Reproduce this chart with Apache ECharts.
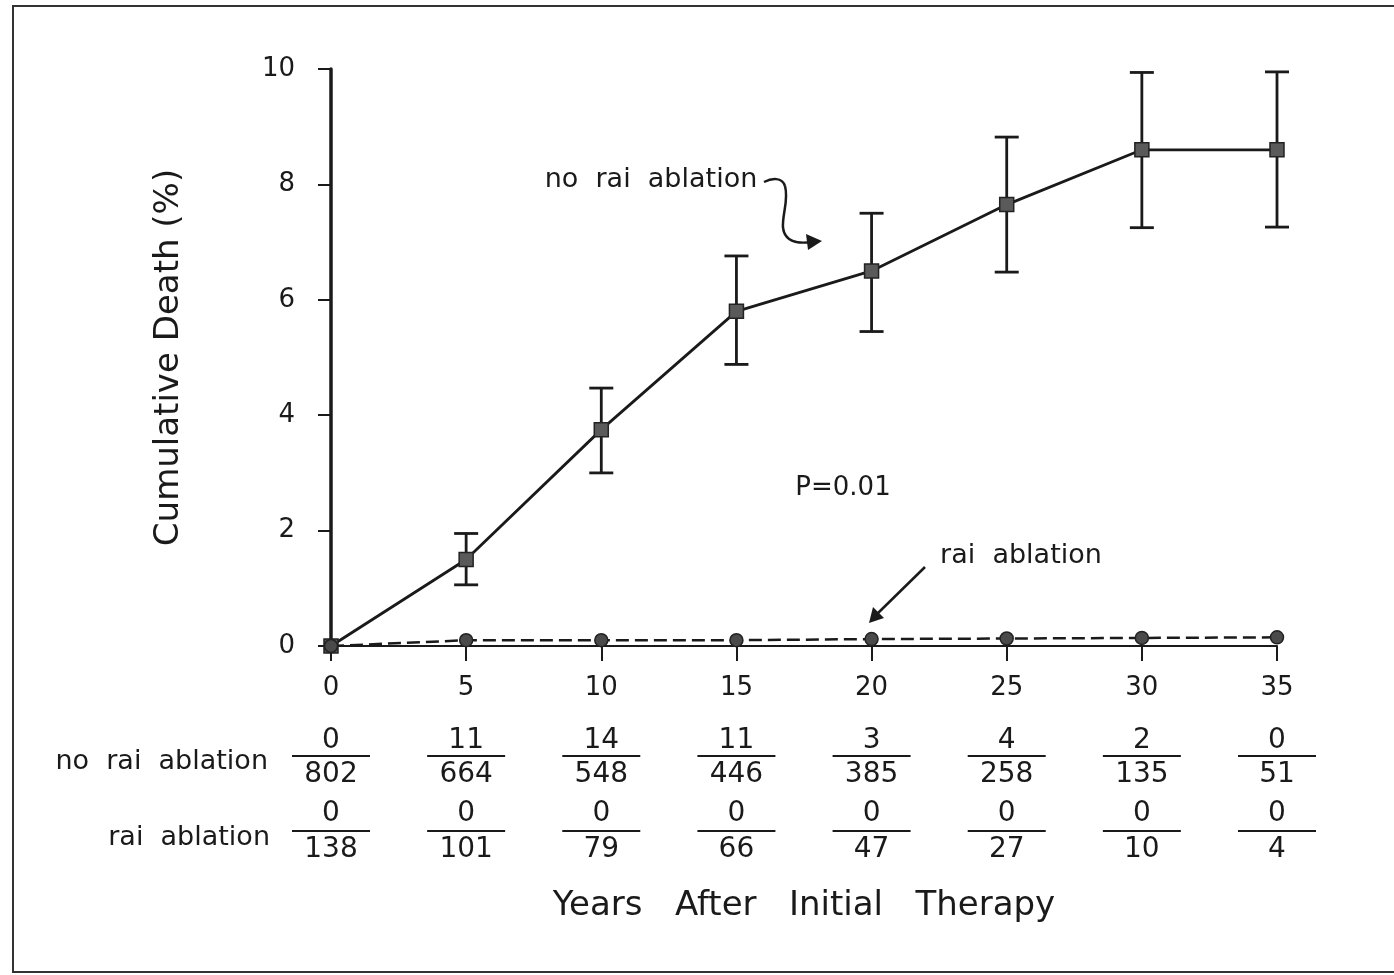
<!DOCTYPE html>
<html>
<head>
<meta charset="utf-8">
<title>Cumulative Death</title>
<script src="https://cdn.jsdelivr.net/npm/echarts@6/dist/echarts.min.js"></script>
<style>
  html, body { margin: 0; padding: 0; background: #fff; }
  #chart { width: 1394px; height: 975px; }
</style>
</head>
<body>
<div id="chart"></div>
<script>
// years after initial therapy
var years = [0, 5, 10, 15, 20, 25, 30, 35];

// cumulative death (%), no rai ablation, with error bar ends
var noRai = [0, 1.5, 3.75, 5.8, 6.5, 7.65, 8.6, 8.6];
var noRaiLow = [null, 1.06, 3.0, 4.88, 5.45, 6.48, 7.25, 7.26];
var noRaiHigh = [null, 1.95, 4.47, 6.76, 7.5, 8.82, 9.94, 9.95];

// cumulative death (%), rai ablation
var rai = [0, 0.1, 0.1, 0.1, 0.12, 0.13, 0.14, 0.15];

// numbers at risk table (deaths / patients)
var noRaiDeaths = [0, 11, 14, 11, 3, 4, 2, 0];
var noRaiAtRisk = [802, 664, 548, 446, 385, 258, 135, 51];
var raiDeaths = [0, 0, 0, 0, 0, 0, 0, 0];
var raiAtRisk = [138, 101, 79, 66, 47, 27, 10, 4];

var FONT = "DejaVu Sans";
var INK = "#1a1a1a";

var chart = echarts.init(document.getElementById("chart"));

var noRaiPts = years.map(function (y, i) { return [y, noRai[i]]; });
var raiPts = years.map(function (y, i) { return [y, rai[i]]; });
var errPts = [];
for (var i = 0; i < years.length; i++) {
  if (noRaiLow[i] != null) errPts.push([years[i], noRaiLow[i], noRaiHigh[i]]);
}

var option = {
  backgroundColor: "#fff",
  animation: false,
  textStyle: { fontFamily: FONT, color: INK },
  grid: { left: 331, right: 117, top: 69, bottom: 329 },
  xAxis: {
    type: "value",
    min: 0,
    max: 35,
    interval: 5,
    name: "Years   After   Initial   Therapy",
    nameLocation: "middle",
    nameGap: 243,
    nameTextStyle: { fontSize: 34, color: INK, fontFamily: FONT },
    axisLine: { show: true, lineStyle: { color: INK, width: 2 } },
    axisTick: { show: true, inside: false, length: 15, lineStyle: { color: INK, width: 2 } },
    axisLabel: { fontSize: 26, color: INK, margin: 29, fontFamily: FONT },
    splitLine: { show: false }
  },
  yAxis: {
    type: "value",
    min: 0,
    max: 10,
    interval: 2,
    name: "Cumulative Death (%)",
    nameLocation: "middle",
    nameGap: 145,
    nameRotate: 90,
    nameTextStyle: { fontSize: 34, color: INK, fontFamily: FONT },
    axisLine: { show: true, lineStyle: { color: INK, width: 3.5 } },
    axisTick: { show: true, length: 13, lineStyle: { color: INK, width: 2 } },
    axisLabel: { fontSize: 26, color: INK, margin: 36, fontFamily: FONT },
    splitLine: { show: false }
  },
  series: [
    {
      name: "error",
      type: "custom",
      data: errPts,
      z: 2,
      renderItem: function (params, api) {
        var x = api.value(0);
        var lo = api.coord([x, api.value(1)]);
        var hi = api.coord([x, api.value(2)]);
        var w = 12;
        var st = { stroke: INK, lineWidth: 2.8 };
        return {
          type: "group",
          children: [
            { type: "line", shape: { x1: lo[0], y1: lo[1], x2: hi[0], y2: hi[1] }, style: st },
            { type: "line", shape: { x1: lo[0] - w, y1: lo[1], x2: lo[0] + w, y2: lo[1] }, style: st },
            { type: "line", shape: { x1: hi[0] - w, y1: hi[1], x2: hi[0] + w, y2: hi[1] }, style: st }
          ]
        };
      }
    },
    {
      name: "no rai ablation",
      type: "line",
      data: noRaiPts,
      z: 3,
      symbol: "rect",
      symbolSize: 14,
      showAllSymbol: true,
      lineStyle: { color: INK, width: 2.8 },
      itemStyle: { color: "#5a5a5a", borderColor: "#222", borderWidth: 1.5 }
    },
    {
      name: "rai ablation",
      type: "line",
      data: raiPts,
      z: 3,
      symbol: "circle",
      symbolSize: 13,
      showAllSymbol: true,
      lineStyle: { color: INK, width: 2.5, type: [13, 6] },
      itemStyle: { color: "#4a4a4a", borderColor: "#222", borderWidth: 1.5 }
    }
  ]
};

chart.setOption(option);

// annotations and numbers-at-risk table
var g = [];

// outer frame of the figure
g.push({
  type: "rect",
  shape: { x: 13, y: 6, width: 1400, height: 966 },
  style: { fill: null, stroke: "#333", lineWidth: 2 },
  silent: true
});

function txt(x, y, s, align, size) {
  return {
    type: "text",
    x: x,
    y: y,
    style: {
      text: s,
      fontFamily: FONT,
      fontSize: size || 26,
      fill: INK,
      align: align || "center",
      verticalAlign: "middle"
    }
  };
}

function curve(x1, y1, c1x, c1y, c2x, c2y, x2, y2) {
  return {
    type: "bezierCurve",
    shape: { x1: x1, y1: y1, cpx1: c1x, cpy1: c1y, cpx2: c2x, cpy2: c2y, x2: x2, y2: y2 },
    style: { fill: null, stroke: INK, lineWidth: 2.5 }
  };
}

g.push(txt(651, 180, "no  rai  ablation", "center", 27));
g.push(curve(764, 182, 772, 178, 782, 177, 785, 186));
g.push(curve(785, 186, 789, 200, 782, 214, 783, 228));
g.push(curve(783, 228, 785, 242, 797, 244, 812, 242));
g.push({
  type: "polygon",
  shape: { points: [[822, 241], [806, 234], [808, 250]] },
  style: { fill: INK }
});

g.push(txt(1021, 556, "rai  ablation", "center", 27));
g.push({
  type: "line",
  shape: { x1: 925, y1: 567, x2: 876, y2: 615 },
  style: { stroke: INK, lineWidth: 2.5 }
});
g.push({
  type: "polygon",
  shape: { points: [[869, 623], [873, 607], [884, 618]] },
  style: { fill: INK }
});

g.push(txt(843, 488, "P=0.01", "center", 26));

// table rows
g.push(txt(268, 762, "no  rai  ablation", "right", 27));
g.push(txt(270, 838, "rai  ablation", "right", 27));

for (var k = 0; k < years.length; k++) {
  var px = chart.convertToPixel({ xAxisIndex: 0 }, years[k]);
  g.push(txt(px, 741, String(noRaiDeaths[k]), "center", 28));
  g.push({ type: "line", shape: { x1: px - 39, y1: 756, x2: px + 39, y2: 756 }, style: { stroke: INK, lineWidth: 2.2 } });
  g.push(txt(px, 775, String(noRaiAtRisk[k]), "center", 28));
  g.push(txt(px, 814, String(raiDeaths[k]), "center", 28));
  g.push({ type: "line", shape: { x1: px - 39, y1: 831, x2: px + 39, y2: 831 }, style: { stroke: INK, lineWidth: 2.2 } });
  g.push(txt(px, 850, String(raiAtRisk[k]), "center", 28));
}

chart.setOption({ graphic: g });
</script>
</body>
</html>
